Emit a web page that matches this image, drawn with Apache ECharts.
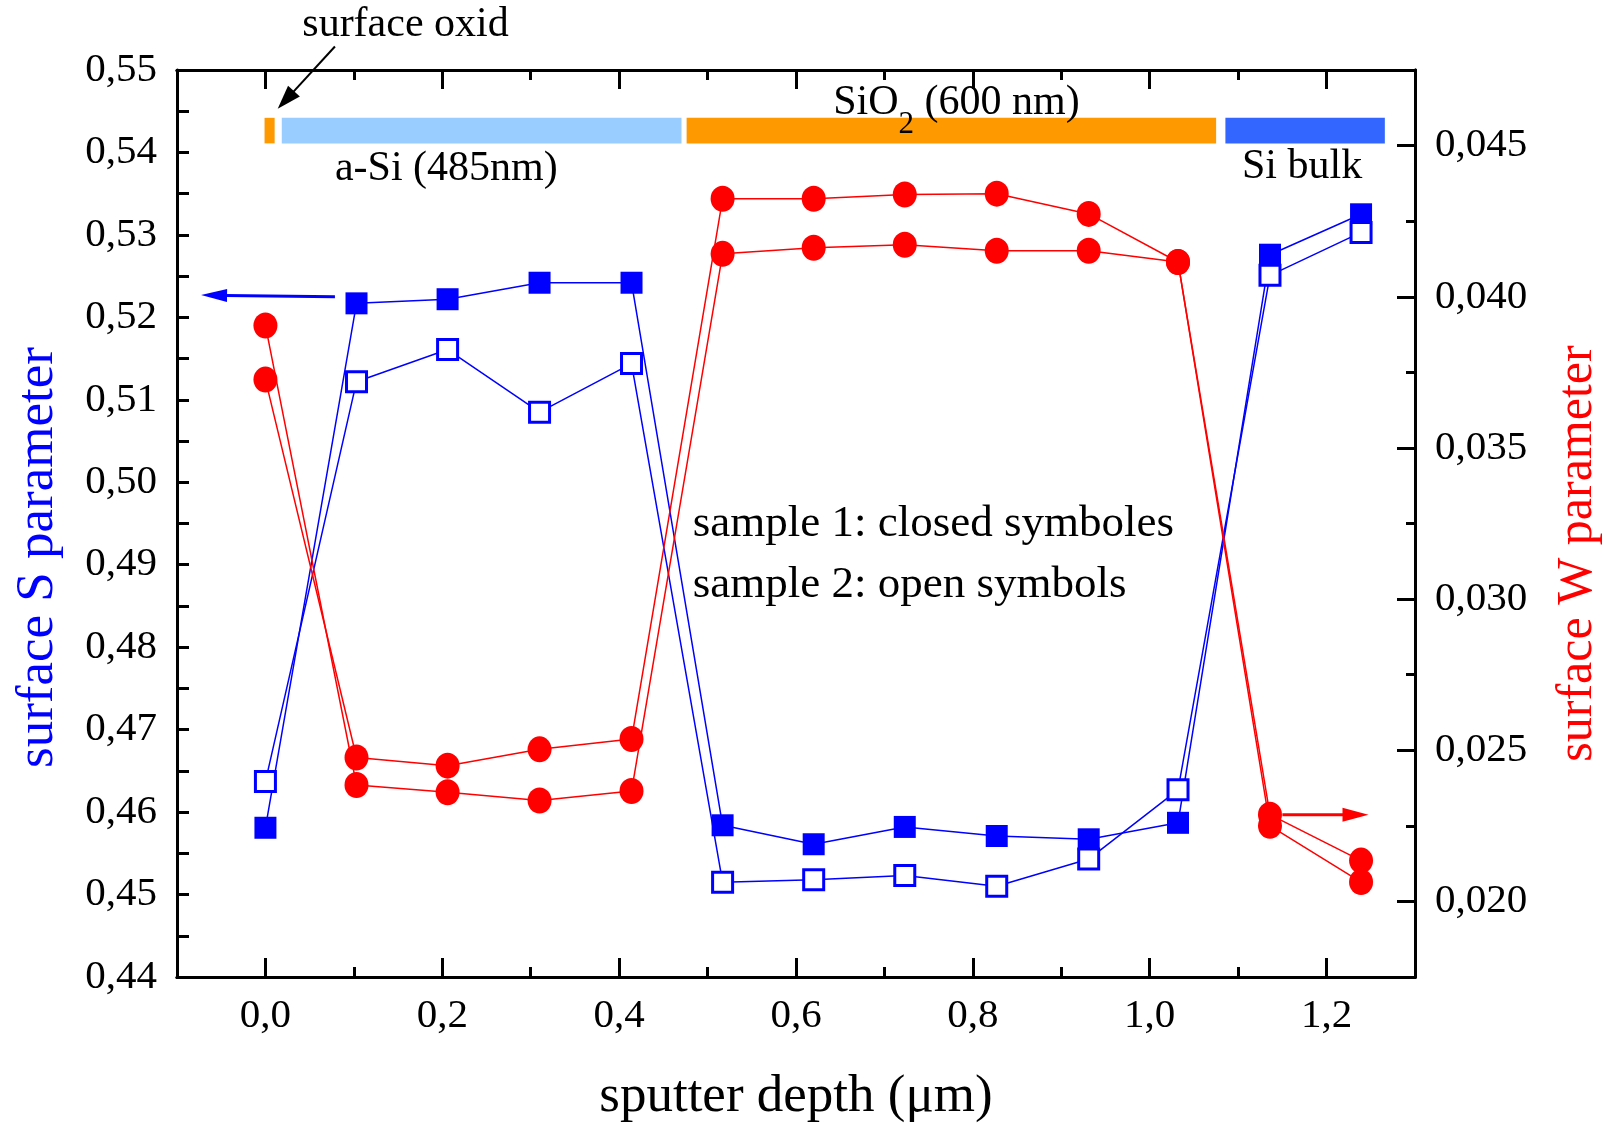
<!DOCTYPE html>
<html><head><meta charset="utf-8">
<script src="https://cdn.jsdelivr.net/npm/echarts@6/dist/echarts.min.js"></script>
<style>html,body{margin:0;padding:0;background:#fff}#c{width:1604px;height:1123px}</style>
</head><body><div id="c"></div>
<script>
// ---- data ----
const depth    = [0.000, 0.103, 0.206, 0.310, 0.414, 0.517, 0.620, 0.723, 0.827, 0.931, 1.032, 1.136, 1.239];
const sSample1 = [0.4581, 0.5217, 0.5222, 0.5242, 0.5242, 0.4584, 0.4561, 0.4582, 0.4571, 0.4567, 0.4587, 0.5276, 0.5325];
const sSample2 = [0.4637, 0.5122, 0.5161, 0.5085, 0.5144, 0.4515, 0.4518, 0.4523, 0.4510, 0.4543, 0.4627, 0.5251, 0.5303];
const wSample1 = [0.03905, 0.02385, 0.02361, 0.02334, 0.02365, 0.04142, 0.04162, 0.04172, 0.04152, 0.04152, 0.04115, 0.02250, 0.02064];
const wSample2 = [0.03726, 0.02476, 0.02449, 0.02503, 0.02537, 0.04324, 0.04324, 0.04338, 0.04341, 0.04274, 0.04115, 0.02287, 0.02135];
const xMajorTicks = [0, 0.2, 0.4, 0.6, 0.8, 1.0, 1.2];
const xMinorTicks = [0.1, 0.3, 0.5, 0.7, 0.9, 1.1];
const wMajorTicks = [0.020, 0.025, 0.030, 0.035, 0.040, 0.045];
const wMinorTicks = [0.0225, 0.0275, 0.0325, 0.0375, 0.0425];
const layerNames = ['surface oxid', 'a-Si', 'SiO2', 'Si bulk'];
const layerStart = [-0.001, 0.0185, 0.4763, 1.0856];
const layerEnd   = [0.0104, 0.4705, 1.0751, 1.2659];

// ---- styles ----
const FONT = 'Liberation Serif';
const BLUE = '#0000ff', RED = '#ff0000';
const layerColors = ['#ff9900', '#99ccff', '#ff9900', '#3366ff'];
const layerBand = [0.5442, 0.5411];
const TICK_FONT = 41;

const pairs = (xs, ys) => xs.map((x, i) => [x, ys[i]]);
const comma = (v, d) => v.toFixed(d).replace('.', ',');

const tickStyle = {color: '#000', width: 3};
const baseX = {type: 'value', min: -0.1, max: 1.3, splitLine: {show: false},
  axisLine: {onZero: false, lineStyle: tickStyle}};

const option = {
  animation: false,
  backgroundColor: '#fff',
  grid: {left: 177, right: 189, top: 70, bottom: 146, containLabel: false, outerBoundsMode: 'none'},
  xAxis: [
    Object.assign({}, baseX, {position: 'bottom',
      axisTick: {inside: true, length: 19, customValues: xMajorTicks, lineStyle: tickStyle},
      axisLabel: {customValues: xMajorTicks, formatter: v => comma(v, 1), margin: 19,
        fontSize: TICK_FONT, fontFamily: FONT, color: '#000'},
      name: 'sputter depth (\u03bcm)', nameLocation: 'middle', nameGap: 94,
      nameTextStyle: {fontSize: 53, fontFamily: FONT, color: '#000'}}),
    Object.assign({}, baseX, {position: 'bottom',
      axisTick: {inside: true, length: 10, customValues: xMinorTicks, lineStyle: tickStyle},
      axisLabel: {show: false}}),
    Object.assign({}, baseX, {position: 'top',
      axisTick: {inside: true, length: 19, customValues: xMajorTicks, lineStyle: tickStyle},
      axisLabel: {show: false}}),
    Object.assign({}, baseX, {position: 'top',
      axisTick: {inside: true, length: 10, customValues: xMinorTicks, lineStyle: tickStyle},
      axisLabel: {show: false}})
  ],
  yAxis: [
    {type: 'value', position: 'left', min: 0.44, max: 0.55, interval: 0.005,
      splitLine: {show: false},
      axisLine: {onZero: false, lineStyle: tickStyle},
      axisTick: {inside: true, length: 12, lineStyle: tickStyle},
      axisLabel: {margin: 20, fontSize: TICK_FONT, fontFamily: FONT, color: '#000',
        formatter: v => (Math.round(v * 200) % 2 === 0 ? comma(v, 2) : '')},
      name: 'surface S parameter', nameLocation: 'middle', nameRotate: 90, nameGap: 112,
      nameTextStyle: {fontSize: 53, fontFamily: FONT, color: BLUE, padding: [0, 68, 0, 0]}},
    {type: 'value', position: 'right', min: 0.0175, max: 0.0475,
      splitLine: {show: false},
      axisLine: {onZero: false, lineStyle: tickStyle},
      axisTick: {inside: true, length: 18, customValues: wMajorTicks, lineStyle: tickStyle},
      axisLabel: {customValues: wMajorTicks, margin: 20, fontSize: TICK_FONT, fontFamily: FONT, color: '#000',
        formatter: v => comma(v, 3)},
      name: 'surface W parameter', nameLocation: 'middle', nameRotate: 90, nameGap: 138,
      nameTextStyle: {fontSize: 50, fontFamily: FONT, color: RED, padding: [0, 60, 0, 0]}},
    {type: 'value', position: 'right', min: 0.0175, max: 0.0475,
      splitLine: {show: false},
      axisLine: {onZero: false, lineStyle: tickStyle},
      axisTick: {inside: true, length: 9, customValues: wMinorTicks, lineStyle: tickStyle},
      axisLabel: {show: false}}
  ],
  series: [
    {name: 'S sample 1', type: 'line', xAxisIndex: 0, yAxisIndex: 0, data: pairs(depth, sSample1),
      symbol: 'rect', symbolSize: 22, lineStyle: {color: BLUE, width: 1.5},
      itemStyle: {color: BLUE}, z: 3,
      markArea: {silent: true, label: {show: false},
        data: layerStart.map((s, i) => [
          {coord: [s, layerBand[0]], itemStyle: {color: layerColors[i], opacity: 1}},
          {coord: [layerEnd[i], layerBand[1]]}
        ])}},
    {name: 'S sample 2', type: 'line', xAxisIndex: 0, yAxisIndex: 0, data: pairs(depth, sSample2),
      symbol: 'rect', symbolSize: 20, lineStyle: {color: BLUE, width: 1.5},
      itemStyle: {color: '#fff', borderColor: BLUE, borderWidth: 3}, z: 4},
    {name: 'W sample 1', type: 'line', xAxisIndex: 0, yAxisIndex: 1, data: pairs(depth, wSample1),
      symbol: 'circle', symbolSize: [24, 26], lineStyle: {color: RED, width: 1.5},
      itemStyle: {color: RED}, z: 5},
    {name: 'W sample 2', type: 'line', xAxisIndex: 0, yAxisIndex: 1, data: pairs(depth, wSample2),
      symbol: 'circle', symbolSize: [24, 26], lineStyle: {color: RED, width: 1.5},
      itemStyle: {color: RED}, z: 5}
  ]
};

const chart = echarts.init(document.getElementById('c'));
chart.setOption(option);

// ---- annotations (placed in data space, converted by the chart's own scales) ----
const textNotes = [
  {text: 'surface oxid', x: 0.1584, y: 0.5555, align: 'center', size: 42},
  {text: 'a-Si (485nm)', x: 0.2046, y: 0.5380, align: 'center', size: 42},
  {text: 'Si bulk', x: 1.1723, y: 0.5382, align: 'center', size: 42},
  {text: 'sample 1: closed symboles', x: 0.4832, y: 0.4949, align: 'left', size: 45},
  {text: 'sample 2: open symbols', x: 0.4832, y: 0.4875, align: 'left', size: 45}
];
const arrows = [
  {from: [0.0786, 0.55285], to: [0.0139, 0.5453], axis: 0, color: '#000', width: 2, head: 24, headW: 16},
  {from: [0.0786, 0.5225], to: [-0.0728, 0.5227], axis: 0, color: BLUE, width: 3, head: 26, headW: 13},
  {from: [1.150, 0.02287], to: [1.2474, 0.02287], axis: 1, color: RED, width: 3, head: 26, headW: 14}
];
const toPx = (p, axis) => chart.convertToPixel({xAxisIndex: 0, yAxisIndex: axis}, p);

const graphics = [];
textNotes.forEach(n => {
  const p = toPx([n.x, n.y], 0);
  graphics.push({type: 'text', x: p[0], y: p[1], z: 100,
    style: {text: n.text, fontSize: n.size, fontFamily: FONT, fill: '#000',
      textAlign: n.align, textVerticalAlign: 'middle'}});
});
{
  const p = toPx([0.7815, 0.5452], 0);
  graphics.push({type: 'text', x: p[0], y: p[1], z: 100,
    style: {text: '{a|SiO}{b|2}{a| (600 nm)}', fill: '#000', textAlign: 'center', textVerticalAlign: 'middle',
      rich: {a: {fontSize: 42, fontFamily: FONT, lineHeight: 56, verticalAlign: 'top', fill: '#000'},
             b: {fontSize: 31, fontFamily: FONT, lineHeight: 28, padding: [28, 0, 0, 0], verticalAlign: 'top', fill: '#000'}}}});
}
arrows.forEach(a => {
  const p0 = toPx(a.from, a.axis), p1 = toPx(a.to, a.axis);
  const dx = p1[0] - p0[0], dy = p1[1] - p0[1], len = Math.hypot(dx, dy);
  const ux = dx / len, uy = dy / len, nx = -uy, ny = ux;
  const bx = p1[0] - ux * a.head, by = p1[1] - uy * a.head;
  graphics.push({type: 'line', z: 100, shape: {x1: p0[0], y1: p0[1], x2: bx + ux * 2, y2: by + uy * 2},
    style: {stroke: a.color, lineWidth: a.width}});
  graphics.push({type: 'polygon', z: 100, shape: {points: [[p1[0], p1[1]],
      [bx + nx * a.headW / 2, by + ny * a.headW / 2], [bx - nx * a.headW / 2, by - ny * a.headW / 2]]},
    style: {fill: a.color}});
});
chart.setOption({graphic: graphics});
</script>
</body></html>
